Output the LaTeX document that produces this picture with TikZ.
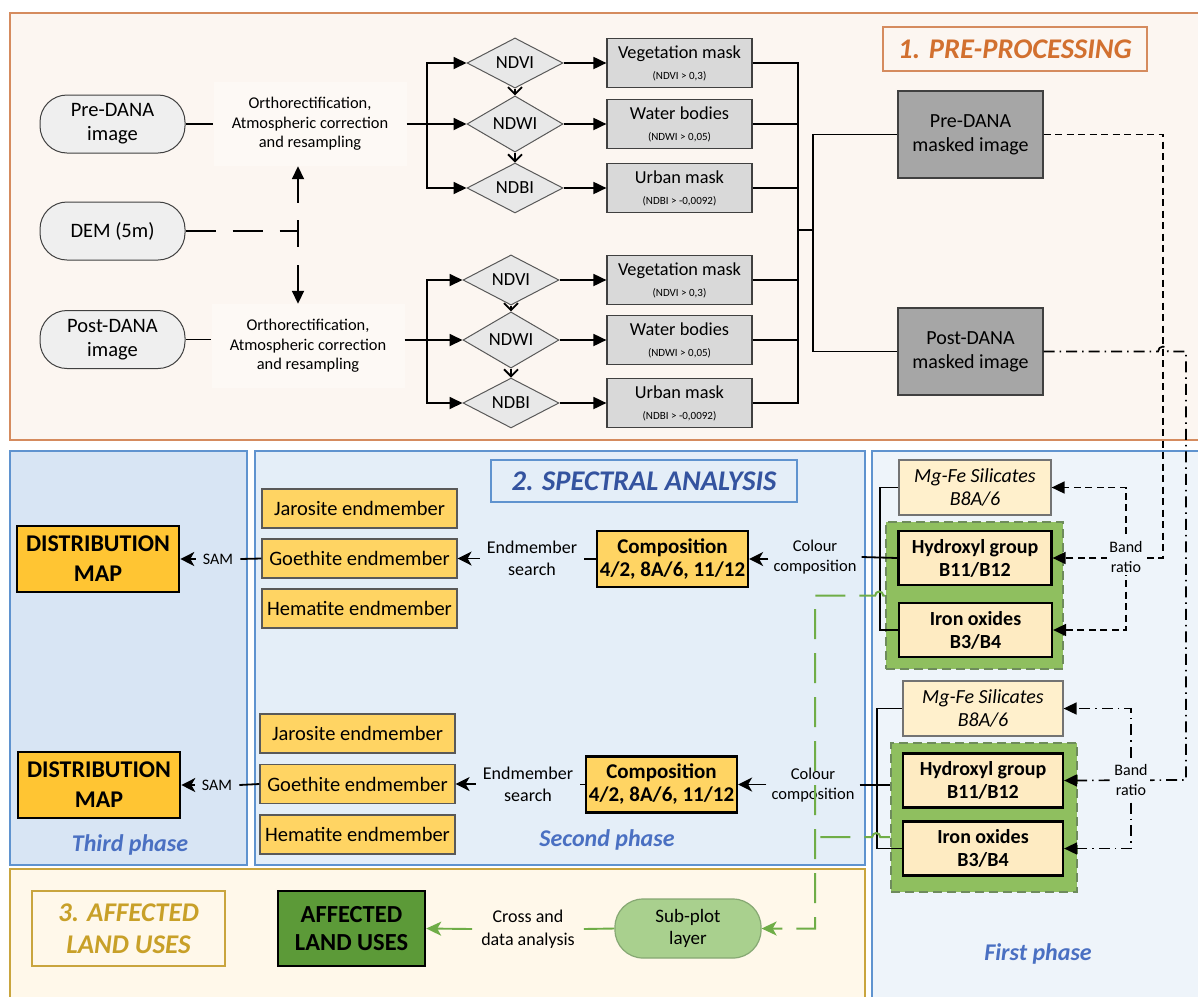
\documentclass[tikz,border=0pt]{standalone}
\usepackage{fontspec}
\setmainfont{Carlito}
\usetikzlibrary{shapes.geometric,arrows.meta}
\definecolor{preFill}{HTML}{FCF6F1}
\definecolor{orthoFill}{HTML}{FDF9F5}
\definecolor{preBorder}{HTML}{D58B5E}
\definecolor{preTitle}{HTML}{D2702F}
\definecolor{thirdFill}{HTML}{D8E5F4}
\definecolor{secondFill}{HTML}{E4EEF8}
\definecolor{firstFill}{HTML}{EEF4FA}
\definecolor{blueBorder}{HTML}{5F93CF}
\definecolor{blueTitle}{HTML}{34539F}
\definecolor{phaseBlue}{HTML}{4A70C2}
\definecolor{affFill}{HTML}{FFF8EA}
\definecolor{goldBorder}{HTML}{C9A53E}
\definecolor{goldTitle}{HTML}{C8A028}
\definecolor{pillFill}{HTML}{EFEFEF}
\definecolor{diaFill}{HTML}{E8E8E8}
\definecolor{maskFill}{HTML}{D9D9D9}
\definecolor{mskFill}{HTML}{A6A6A6}
\definecolor{endFill}{HTML}{FFD463}
\definecolor{distFill}{HTML}{FFC533}
\definecolor{mgFill}{HTML}{FFF0CC}
\definecolor{hydFill}{HTML}{FEEBC2}
\definecolor{grpFill}{HTML}{8FBF5F}
\definecolor{grpBorder}{HTML}{6E8B5C}
\definecolor{affBox}{HTML}{5C9A38}
\definecolor{subFill}{HTML}{A9D08E}
\definecolor{subBorder}{HTML}{86A873}
\definecolor{gline}{HTML}{6FAD47}
\tikzset{
 pill/.style={draw=black!75, fill=pillFill, rounded corners=27pt, minimum width=145pt, minimum height=58pt, inner sep=0pt, align=center, line width=1pt, font=\fontsize{20.5}{24}\selectfont},
 orthobox/.style={fill=orthoFill, minimum width=193pt, minimum height=84pt, inner sep=0pt, align=center, font=\fontsize{16.4}{19.5}\selectfont},
 dia/.style={diamond, draw=black!65, fill=diaFill, minimum width=96pt, minimum height=45pt, inner sep=0pt, line width=1pt, font=\fontsize{18.5}{20}\selectfont},
 maskbox/.style={draw=black!75, fill=maskFill, minimum width=145pt, minimum height=49pt, inner sep=0pt, align=center, line width=1.2pt, font=\fontsize{18.3}{21}\selectfont},
 mskimg/.style={draw=black!75, fill=mskFill, minimum width=145pt, minimum height=87pt, inner sep=0pt, align=center, line width=1.2pt, font=\fontsize{20}{24}\selectfont},
 endm/.style={draw=black!65, fill=endFill, minimum width=195pt, minimum height=39pt, inner sep=0pt, line width=1.2pt, font=\fontsize{20.5}{24}\selectfont},
 compbox/.style={draw=black, fill=endFill, minimum width=151pt, minimum height=56pt, inner sep=0pt, align=center, line width=2.2pt, font=\bfseries\fontsize{21}{23}\selectfont},
 distbox/.style={draw=black, fill=distFill, minimum width=162pt, minimum height=66pt, inner sep=0pt, align=center, line width=2.6pt, font=\bfseries\fontsize{24}{30}\selectfont},
 mgbox/.style={draw=black!55, fill=mgFill, minimum height=55pt, inner sep=0pt, align=center, line width=1.2pt, font=\itshape\fontsize{20}{23}\selectfont},
 hydbox/.style={draw=black, fill=hydFill, minimum height=54pt, inner sep=0pt, align=center, line width=2.2pt, font=\bfseries\fontsize{20}{23}\selectfont},
 grpbox/.style={draw=grpBorder, fill=grpFill, line width=1.6pt, dash pattern=on 9pt off 5pt, inner sep=0pt},
 lbl/.style={inner xsep=7pt, inner ysep=1pt, align=center},
 phase/.style={text=phaseBlue, font=\bfseries\itshape\fontsize{24}{26}\selectfont},
 conn/.style={line width=1.8pt},
 tri/.style={-{Triangle[length=13pt,width=12pt]}},
 stl/.style={-{Stealth[length=14pt,width=14pt,inset=4pt]}},
 barb/.style={-{Straight Barb[length=7pt,width=14pt]}},
 dsh/.style={line width=1.7pt, dash pattern=on 7pt off 4.5pt},
 ddot/.style={line width=1.7pt, dash pattern=on 11pt off 5pt on 1.5pt off 5pt},
 demd/.style={line width=1.8pt, dash pattern=on 30pt off 17pt},
 demd2/.style={line width=1.8pt, dash pattern=on 16pt off 18pt on 40pt off 0pt},
 gdash/.style={draw=gline, line width=2pt, dash pattern=on 30pt off 14pt},
}
\begin{document}
\begin{tikzpicture}[x=1pt,y=-1pt]
\useasboundingbox (0,0) rectangle (1198,996);
\clip (0,0) rectangle (1198,996);
\fill[white] (0,0) rectangle (1198,996);
% ---------- panels ----------
\draw[preBorder, fill=preFill, line width=1.5pt] (10,13) rectangle (1215,440);
\draw[blueBorder, fill=thirdFill, line width=1.5pt] (10,451) rectangle (247,865);
\draw[blueBorder, fill=secondFill, line width=1.5pt] (255,451) rectangle (865,865);
\draw[blueBorder, fill=firstFill, line width=1.5pt] (872,451) rectangle (1215,1010);
\draw[goldBorder, fill=affFill, line width=1.5pt] (10,869) rectangle (865,1010);
% ---------- titles ----------
\node[draw=preBorder, line width=1.3pt, fill=preFill, minimum width=264pt, minimum height=44pt, inner sep=0pt, text=preTitle, font=\bfseries\itshape\fontsize{28.5}{30}\selectfont] (t1) at (1015,49) {1. PRE-PROCESSING};
\node[draw=blueBorder, line width=1.3pt, fill=secondFill, minimum width=306pt, minimum height=42pt, inner sep=0pt, text=blueTitle, font=\bfseries\itshape\fontsize{28.5}{30}\selectfont] (t2) at (644,481) {2. SPECTRAL ANALYSIS};
\node[draw=goldBorder, line width=1.3pt, fill=affFill, minimum width=193pt, minimum height=75pt, inner sep=0pt, align=center, text=goldTitle, font=\bfseries\itshape\fontsize{27}{32}\selectfont] (t3) at (128.5,928.5) {3. AFFECTED\\LAND USES};
\node[phase] (ph3) at (130,845) {Third phase};
\node[phase] (ph2) at (607,840) {Second phase};
\node[phase] (ph1) at (1038,954) {First phase};
% ---------- pre-processing ----------
\node[pill] (pre) at (112.5,124) {Pre-DANA\\image};
\node[pill] (dem) at (112.5,231) {DEM (5m)};
\node[pill] (post) at (112.5,339.5) {Post-DANA\\image};
\node[orthobox] (ortho1) at (310,124) {Orthorectification,\\Atmospheric correction\\and resampling};
\node[orthobox] (ortho2) at (308,346) {Orthorectification,\\Atmospheric correction\\and resampling};
\coordinate (dj) at (298,231);
\coordinate (b1) at (427,124);
\coordinate (b2) at (427,340);
\node[dia] (ndvi1) at (515,63) {NDVI};
\node[dia] (ndwi1) at (515,124) {NDWI};
\node[dia] (ndbi1) at (515,188) {NDBI};
\node[dia] (ndvi2) at (511,280) {NDVI};
\node[dia] (ndwi2) at (511,340) {NDWI};
\node[dia] (ndbi2) at (511,403) {NDBI};
\node[maskbox] (veg1) at (679.5,63) {Vegetation mask\\\fontsize{11}{21}\selectfont (NDVI > 0,3)};
\node[maskbox] (wat1) at (679.5,124) {Water bodies\\\fontsize{11}{21}\selectfont (NDWI > 0,05)};
\node[maskbox] (urb1) at (679.5,188) {Urban mask\\\fontsize{11}{21}\selectfont (NDBI > -0,0092)};
\node[maskbox] (veg2) at (679.5,280) {Vegetation mask\\\fontsize{11}{21}\selectfont (NDVI > 0,3)};
\node[maskbox] (wat2) at (679.5,340) {Water bodies\\\fontsize{11}{21}\selectfont (NDWI > 0,05)};
\node[maskbox] (urb2) at (679.5,403) {Urban mask\\\fontsize{11}{21}\selectfont (NDBI > -0,0092)};
\coordinate (cR) at (798,230);
\coordinate (cR2) at (813,230);
\node[mskimg] (pmask) at (970.5,134.5) {Pre-DANA\\masked image};
\node[mskimg] (qmask) at (970.5,351.5) {Post-DANA\\masked image};
% connectors pre-processing
\draw[conn] (pre.east) -- (ortho1.west);
\draw[conn] (post.east) -- (post.east -| ortho2.west);
\draw[demd,tri] (dem.east) -- (dj) -- (dj |- ortho1.south);
\draw[demd2,tri] (dj) -- (dj |- ortho2.north);
\draw[conn] (ortho1.east) -- (b1);
\draw[conn] (ortho2.east |- b2) -- (b2);
\draw[conn,tri] (b1) |- (ndvi1.west);
\draw[conn,tri] (b1) -- (ndwi1.west);
\draw[conn,tri] (b1) |- (ndbi1.west);
\draw[conn,tri] (b2) |- (ndvi2.west);
\draw[conn,tri] (b2) -- (ndwi2.west);
\draw[conn,tri] (b2) |- (ndbi2.west);
\draw[conn,barb] (ndvi1.south) -- (ndwi1.north);
\draw[conn,barb] (ndwi1.south) -- (ndbi1.north);
\draw[conn,barb] (ndvi2.south) -- (ndwi2.north);
\draw[conn,barb] (ndwi2.south) -- (ndbi2.north);
\foreach \d/\m in {ndvi1/veg1,ndwi1/wat1,ndbi1/urb1,ndvi2/veg2,ndwi2/wat2,ndbi2/urb2}{
  \draw[conn,tri] (\d.east) -- (\m.west);
  \draw[conn] (\m.east) -| (cR);
}
\draw[conn] (cR) -- (cR2);
\draw[conn] (cR2) |- (pmask.west);
\draw[conn] (cR2) |- (qmask.west);
% ---------- first phase ----------
\node[grpbox] (grp1) at (974.5,595.5) [minimum width=177pt, minimum height=147pt] {};
\node[grpbox] (grp2) at (984,817.5) [minimum width=186pt, minimum height=149pt] {};
\node[mgbox, minimum width=152pt] (mg1) at (975,487.5) {Mg-Fe Silicates\\B8A/6};
\node[hydbox, minimum width=153pt] (hyd1) at (975,558) {Hydroxyl group\\B11/B12};
\node[hydbox, minimum width=153pt] (iron1) at (975.5,630) {Iron oxides\\B3/B4};
\node[mgbox, minimum width=160pt] (mg2) at (983,708.5) {Mg-Fe Silicates\\B8A/6};
\node[hydbox, minimum width=160pt] (hyd2) at (983,780.5) {Hydroxyl group\\B11/B12};
\node[hydbox, minimum width=160pt] (iron2) at (983,848.5) {Iron oxides\\B3/B4};
\coordinate (k1) at (880,558);
\coordinate (k2) at (877,785);
\coordinate (j1) at (1126,557);
\coordinate (j2) at (1131,780);
\coordinate (c1) at (1163,558);
\coordinate (c2) at (1186,780);
\coordinate (h1) at (1158,351.5);
% ---------- second / third phase ----------
\node[endm] (jar1) at (359.5,508.5) {Jarosite endmember};
\node[endm] (goe1) at (359.5,558.5) {Goethite endmember};
\node[endm] (hem1) at (359.5,608.5) {Hematite endmember};
\node[endm] (jar2) at (357.5,733.5) {Jarosite endmember};
\node[endm] (goe2) at (357.5,784) {Goethite endmember};
\node[endm] (hem2) at (357.5,834.5) {Hematite endmember};
\node[distbox] (dist1) at (98,559) {DISTRIBUTION\\MAP};
\node[distbox] (dist2) at (99,785) {DISTRIBUTION\\MAP};
\node[lbl, font=\fontsize{16}{18}\selectfont] (sam1) at (218,559) {SAM};
\node[lbl, font=\fontsize{16}{18}\selectfont] (sam2) at (217,785) {SAM};
\node[lbl, font=\fontsize{18}{22}\selectfont] (es1) at (532,558) {Endmember\\search};
\node[lbl, font=\fontsize{18}{22}\selectfont] (es2) at (528,784) {Endmember\\search};
\node[compbox] (comp1) at (672.5,559) {Composition\\4/2, 8A/6, 11/12};
\node[compbox] (comp2) at (661.5,784.5) {Composition\\4/2, 8A/6, 11/12};
\node[lbl, inner xsep=5pt, font=\fontsize{16.5}{20}\selectfont] (cc1) at (815,557) {Colour\\composition};
\node[lbl, inner xsep=5pt, font=\fontsize{16.5}{20}\selectfont] (cc2) at (813,785) {Colour\\composition};
% ---------- affected land uses ----------
\node[draw=black, line width=2.4pt, fill=affBox, minimum width=147pt, minimum height=75pt, inner sep=0pt, align=center, font=\bfseries\fontsize{24.5}{28}\selectfont] (aff) at (351.5,928.5) {AFFECTED\\LAND USES};
\node[lbl, inner xsep=9pt, font=\fontsize{18}{23}\selectfont] (cross) at (528,929) {Cross and\\data analysis};
\node[draw=subBorder, fill=subFill, line width=1.2pt, rounded corners=28pt, minimum width=146pt, minimum height=59pt, inner sep=0pt, align=center, font=\fontsize{19}{22}\selectfont] (sub) at (688,928.5) {Sub-plot\\layer};
% connectors second/third
\draw[conn] (goe1.west) -- (sam1.east);
\draw[conn,stl] (sam1.west) -- (dist1.east);
\draw[conn] (goe2.west) -- (sam2.east);
\draw[conn,stl] (sam2.west) -- (dist2.east);
\draw[conn] (comp1.west) -- (comp1.west -| es1.east);
\draw[conn,stl] (es1.west |- goe1.east) -- (goe1.east);
\draw[conn] (comp2.west) -- (comp2.west -| es2.east);
\draw[conn,stl] (es2.west |- goe2.east) -- (goe2.east);
\draw[conn,stl] (cc1.west |- comp1.east) -- (comp1.east);
\draw[conn,stl] (cc2.west |- comp2.east) -- (comp2.east);
\draw[conn] (cc1.east) -- (hyd1.west);
\draw[conn] (cc2.east) -- (cc2.east -| grp2.west);
\draw[conn] (mg1.west) -| (k1);
\draw[conn] (iron1.west) -| (k1);
\draw[conn] (mg2.west) -| (k2);
\draw[conn] (iron2.west) -| (k2);
% affected connectors
\draw[draw=gline, line width=1.9pt] (sub.west) -- (cross.east);
\draw[draw=gline, line width=1.9pt, -{Stealth[length=15pt,width=14pt,inset=4pt]}] (cross.west) -- (aff.east);
% green dashed from groups
\draw[gdash, -{Stealth[length=15pt,width=14pt,inset=4pt]}] (grp1.west) -- ++(-2,0) arc[start angle=0,end angle=180,radius=4pt] -- (815,595.5) -- (815,928.5) -- (sub.east);
\draw[gdash] ([yshift=-19.5pt]grp2.west) -- ++(-10,0) arc[start angle=0,end angle=180,radius=4pt] -- (815,837);
% band ratio lines
\draw[dsh,tri] (pmask.east) -| (c1) -- (hyd1.east);
\draw[dsh,tri] (j1) |- (mg1.east);
\draw[dsh,tri] (j1) |- (iron1.east);
\draw[ddot,tri] (qmask.east) -- (h1) arc[start angle=180,end angle=0,radius=5pt] -- (c2 |- qmask.east) -- (c2) -- (hyd2.east);
\draw[ddot,tri] (j2) |- (mg2.east);
\draw[ddot,tri] (j2) |- (iron2.east);
\node[fill=firstFill, inner sep=2pt, align=center, font=\fontsize{16}{20}\selectfont] (br1) at (j1) {Band\\ratio};
\node[fill=firstFill, inner sep=2pt, align=center, font=\fontsize{16}{20}\selectfont] (br2) at (j2) {Band\\ratio};
\end{tikzpicture}
\end{document}
